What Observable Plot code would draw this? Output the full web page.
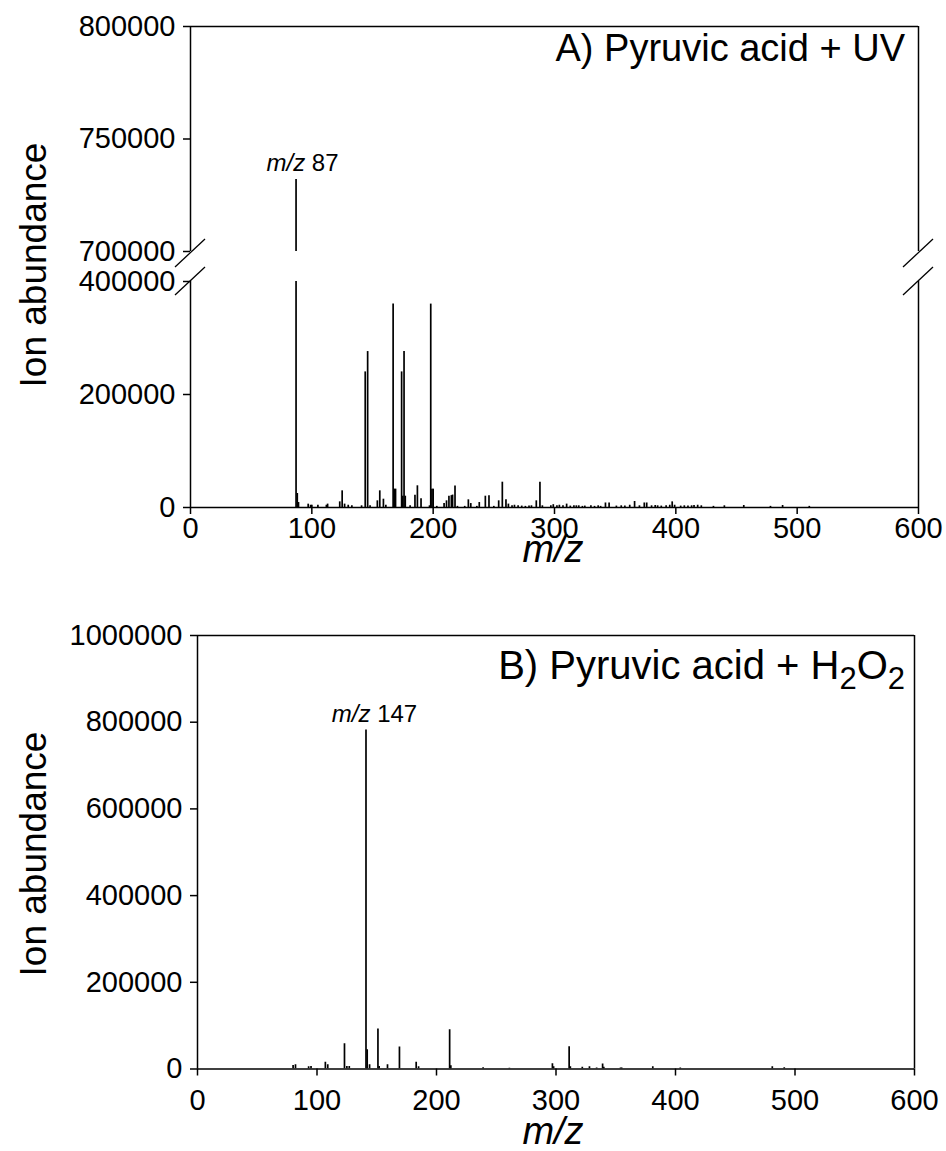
<!DOCTYPE html>
<html><head><meta charset="utf-8">
<script src="https://cdn.jsdelivr.net/npm/d3@7"></script>
<script src="https://cdn.jsdelivr.net/npm/@observablehq/plot@0.6"></script>
<style>
body{margin:0;background:#fff;}
#wrap{position:relative;width:946px;height:1151px;font-family:"Liberation Sans",Arial,sans-serif;}
#wrap svg{position:absolute;left:0;overflow:visible;background:transparent;}
</style></head><body><div id="wrap"></div>
<script>
// Panel A: Pyruvic acid + UV
const mzA = [87,88,89,97,99,100,105,112,113,123,125,127,130,133,141,144,146,148,154,156,159,161,167,168,169,174,175,176,177,181,185,187,190,197,198,199,200,203,209,211,213,215,216,218,220,226,229,231,236,238,243,246,250,254,257,260,262,265,267,270,273,276,279,281,285,288,290,297,299,302,304,307,310,313,316,318,320,323,325,330,333,336,338,342,345,351,355,358,362,366,370,374,376,380,383,385,388,392,395,397,399,404,407,410,413,415,418,421,431,440,456,478,488,510];
const abA = [732000,24800,8800,5900,4000,4000,4000,4000,6000,10000,29500,6000,4000,3000,3000,240000,276000,3000,11800,29500,14700,4000,360000,32500,32500,240000,20000,276000,20000,3000,21800,38400,15300,3000,360000,32500,32500,2000,7000,11800,20000,21000,22000,38000,2000,2000,13600,7000,2000,8800,20000,20600,2000,11800,44800,13600,6000,3000,4000,3000,2500,2000,2500,3000,11800,44800,3000,3000,5000,3000,4000,3000,6000,2500,3000,3000,3000,2000,2500,3000,2000,3000,2000,8000,8000,2500,3000,2500,4000,10600,3000,8000,8000,3000,3500,3000,2500,3000,4000,10000,4000,2500,3000,2500,3000,3500,4000,3000,2000,3000,3500,2000,3500,2000];
// Panel B: Pyruvic acid + H2O2
const mzB = [80,82,93,95,107,109,123,125,127,141,142,144,151,152,159,169,183,185,211,212,239,261,297,298,311,312,322,328,334,339,340,354,355,381,404,481,491];
const abB = [8000,10000,5000,6000,15400,10000,58400,6000,6000,782000,44600,10000,92300,6000,10000,50800,15400,5400,90700,7700,3000,1500,12300,5400,51500,5400,3800,5400,2300,11500,4000,2300,2300,5400,2300,5400,3000];

const xTicks = [0,100,200,300,400,500,600];
const yTicksATop = [700000,750000,800000];
const yTicksABot = [0,200000,400000];
const yTicksB = [0,200000,400000,600000,800000,1000000];
const peakA = 87, peakB = 141;
const peakLabelA = "87", peakLabelB = "147";

const dataA = mzA.map((m,i)=>({mz:m, ab:abA[i]}));
const dataB = mzB.map((m,i)=>({mz:m, ab:abB[i]}));

const FONT = "Liberation Sans, Arial, sans-serif";
const TICKFS = 29;
const baseStyle = {fontFamily: FONT, fontSize: TICKFS+"px", color:"black", background:"transparent", overflow:"visible"};
const wrap = document.getElementById("wrap");

function place(svg, top){ svg.style.top = top+"px"; wrap.appendChild(svg); return d3.select(svg); }

// A top segment
const pAt = Plot.plot({
  width:946, height:266, marginLeft:190, marginRight:28, marginTop:26, marginBottom:15,
  style: baseStyle,
  x:{domain:[0,600], axis:null},
  y:{domain:[700000,800000], axis:null},
  marks:[
    Plot.axisY({ticks:yTicksATop, tickSize:7, tickPadding:8, tickFormat:"d", label:null, fontSize:TICKFS, strokeWidth:1.5}),
    Plot.ruleX([0,600],{stroke:"black", strokeWidth:1.5}),
    Plot.ruleY([800000],{stroke:"black", strokeWidth:1.5}),
    Plot.ruleX(dataA,{x:"mz", y1:0, y2:"ab", clip:true, stroke:"black", strokeWidth:1.7})
  ]
});
const sAt = place(pAt, 0);

// A bottom segment
const pAb = Plot.plot({
  width:946, height:324, marginLeft:190, marginRight:28, marginTop:15, marginBottom:83,
  style: baseStyle,
  x:{domain:[0,600], axis:null},
  y:{domain:[0,400000], axis:null},
  marks:[
    Plot.axisY({ticks:yTicksABot, tickSize:7, tickPadding:8, tickFormat:"d", label:null, fontSize:TICKFS, strokeWidth:1.5}),
    Plot.axisX({ticks:xTicks, tickSize:7, tickPadding:3, tickFormat:"d", label:null, fontSize:TICKFS, strokeWidth:1.5}),
    Plot.ruleX([0,600],{stroke:"black", strokeWidth:1.5}),
    Plot.ruleY([0],{stroke:"black", strokeWidth:1.5}),
    Plot.ruleX(dataA,{x:"mz", y1:0, y2:"ab", clip:true, stroke:"black", strokeWidth:1.7})
  ]
});
const sAb = place(pAb, 266);

// B
const pB = Plot.plot({
  width:946, height:561, marginLeft:197, marginRight:32, marginTop:45, marginBottom:82.5,
  style: baseStyle,
  x:{domain:[0,600], axis:null},
  y:{domain:[0,1000000], axis:null},
  marks:[
    Plot.axisY({ticks:yTicksB, tickSize:7, tickPadding:8, tickFormat:"d", label:null, fontSize:TICKFS, strokeWidth:1.5}),
    Plot.axisX({ticks:xTicks, tickSize:7, tickPadding:13, tickFormat:"d", label:null, fontSize:TICKFS, strokeWidth:1.5}),
    Plot.ruleX([0,600],{stroke:"black", strokeWidth:1.5}),
    Plot.ruleY([0,1000000],{stroke:"black", strokeWidth:1.5}),
    Plot.ruleX(dataB,{x:"mz", y1:0, y2:"ab", clip:true, stroke:"black", strokeWidth:1.7})
  ]
});
const sB = place(pB, 590);

// break marks
function slash(sel, cx, cy){
  sel.append("line").attr("x1",cx-15).attr("y1",cy+14).attr("x2",cx+15).attr("y2",cy-14)
    .attr("stroke","black").attr("stroke-width",1.3);
}
const xAt = pAt.scale("x"), yAt = pAt.scale("y");
const xAb = pAb.scale("x"), yAb = pAb.scale("y");
const xB = pB.scale("x"), yB = pB.scale("y");
[0,600].forEach(v=>{
  slash(sAt, xAt.apply(v), yAt.apply(700000)+2);
  slash(sAb, xAb.apply(v), yAb.apply(400000));
});

// peak labels
function peakLabel(sel, x, y, num){
  const t = sel.append("text").attr("x",x).attr("y",y).attr("text-anchor","middle")
    .attr("font-size",24).attr("font-family",FONT).attr("fill","black");
  t.append("tspan").attr("font-style","italic").text("m/z");
  t.append("tspan").text(" "+num);
}
peakLabel(sAt, xAt.apply(peakA)+7, yAt.apply(abA[mzA.indexOf(peakA)])-8, peakLabelA);
peakLabel(sB, xB.apply(peakB)+9, yB.apply(abB[mzB.indexOf(peakB)])-8, peakLabelB);

// titles
sAt.append("text").attr("x",905).attr("y",61).attr("text-anchor","end")
  .attr("font-size",38).attr("font-family",FONT).attr("fill","black").text("A) Pyruvic acid + UV");
const tB = sB.append("text").attr("x",905).attr("y",89).attr("text-anchor","end")
  .attr("font-size",40).attr("font-family",FONT).attr("fill","black");
tB.append("tspan").text("B) Pyruvic acid + H");
tB.append("tspan").attr("font-size",31).attr("dy",10).text("2");
tB.append("tspan").attr("dy",-10).text("O");
tB.append("tspan").attr("font-size",31).attr("dy",10).text("2");

// axis titles
function yTitle(sel, cy){
  sel.append("text").attr("transform",`translate(33,${cy}) rotate(-90)`).attr("text-anchor","middle")
    .attr("dy","0.35em").attr("font-size",37).attr("font-family",FONT).attr("fill","black").text("Ion abundance");
}
yTitle(sAt, 265);
yTitle(sB, 264);
function xTitle(sel, y){
  sel.append("text").attr("x",553).attr("y",y).attr("text-anchor","middle").attr("font-style","italic")
    .attr("font-size",38).attr("font-family",FONT).attr("fill","black").text("m/z");
}
xTitle(sAb, 296);
xTitle(sB, 554);
</script></body></html>
